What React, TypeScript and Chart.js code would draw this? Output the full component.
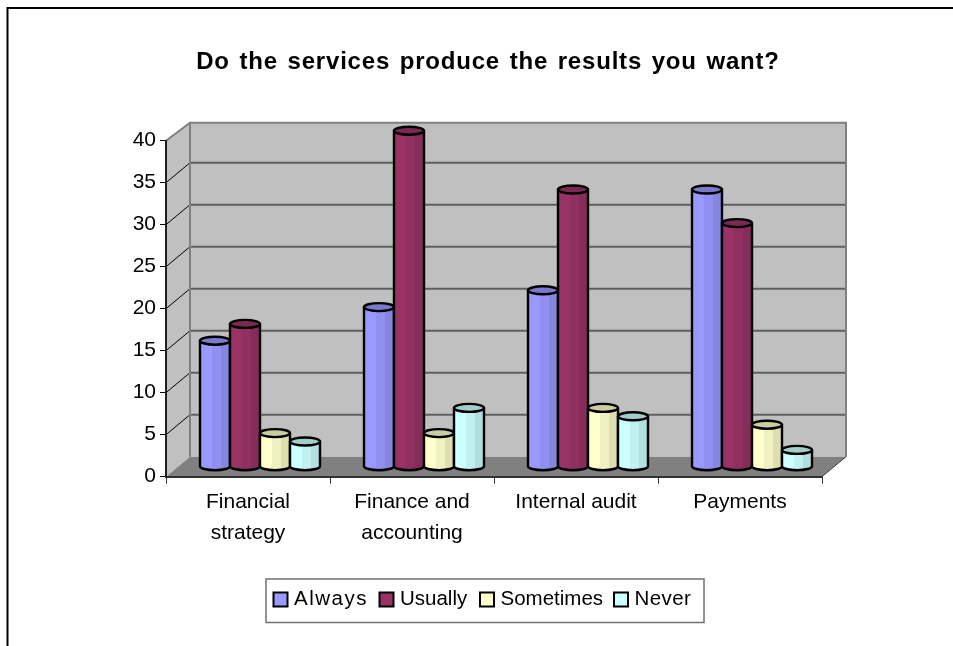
import React, { useEffect, useRef } from "react";
import { Chart, registerables, type Plugin } from "chart.js";

Chart.register(...registerables);

const categories = [["Financial", "strategy"], ["Finance and", "accounting"], "Internal audit", "Payments"];
const always = [15, 19, 21, 33];
const usually = [17, 40, 33, 29];
const sometimes = [4, 4, 7, 5];
const never = [3, 7, 6, 2];
const seriesNames = ["Always", "Usually", "Sometimes", "Never"];
const seriesColors = ["#9999FF", "#993366", "#FFFFCC", "#CCFFFF"];
const chartTitle = "Do the services produce the results you want?";

const FONT = '"Liberation Sans", Arial, sans-serif';
const TEXT_SIZE = 20.5;
const AXIS_TEXT_SIZE = 21;
const TITLE_LETTER_SPACING = "0.8px";
const TITLE_WORD_SPACING = "2.2px";
const TITLE_SHIFT_X = 77;

// Oblique projection of the plot box
const DEPTH_X = 24;
const DEPTH_Y = 20;
const TOP_EDGE_INSET = 2;

// Legend frame, where each entry begins and how loosely its text is set
const LEGEND_BOX = { left: 266, top: 579, right: 704, bottom: 622.5 };
const LEGEND_ENTRY_X = [273.5, 379.5, 480, 614];
const LEGEND_TRACKING = ["1.5px", "0px", "0px", "0.4px"];

function shade(hex: string, factor: number): string {
  const n = parseInt(hex.slice(1), 16);
  const ch = (v: number) => Math.round(v * factor);
  return `rgb(${ch((n >> 16) & 255)},${ch((n >> 8) & 255)},${ch(n & 255)})`;
}

// Frame, walls and floor go underneath the axes
const backdrop: Plugin<"bar"> = {
  id: "backdrop",
  beforeDraw(chart: any) {
    const { ctx, chartArea: a, scales } = chart;
    const y = scales.y;
    const y0 = y.getPixelForValue(0);
    const yMax = y.getPixelForValue(40);

    // The title block has no spacing or offset options of its own
    const block = chart.titleBlock;
    if (block && !block.spaced) {
      const drawTitle = block.draw;
      block.spaced = true;
      block.draw = function (...args: any[]) {
        ctx.save();
        ctx.letterSpacing = TITLE_LETTER_SPACING;
        ctx.wordSpacing = TITLE_WORD_SPACING;
        ctx.translate(TITLE_SHIFT_X, 0);
        drawTitle.apply(this, args);
        ctx.restore();
      };
    }

    ctx.save();

    ctx.fillStyle = "#fff";
    ctx.fillRect(0, 0, chart.width, chart.height);

    ctx.strokeStyle = "#000";
    ctx.lineWidth = 2;
    ctx.beginPath();
    ctx.moveTo(7.5, chart.height);
    ctx.lineTo(7.5, 8);
    ctx.lineTo(chart.width, 8);
    ctx.stroke();

    const backLeft = a.left + DEPTH_X;
    const backRight = a.right + DEPTH_X;
    const backBottom = y0 - DEPTH_Y;
    const backTop = yMax - DEPTH_Y + TOP_EDGE_INSET;

    ctx.fillStyle = "#C0C0C0";
    ctx.fillRect(backLeft, backTop, backRight - backLeft, backBottom - backTop);
    ctx.beginPath();
    ctx.moveTo(a.left, y0);
    ctx.lineTo(a.left, yMax);
    ctx.lineTo(backLeft, backTop);
    ctx.lineTo(backLeft, backBottom);
    ctx.closePath();
    ctx.fill();

    ctx.fillStyle = "#808080";
    ctx.beginPath();
    ctx.moveTo(a.left, y0);
    ctx.lineTo(backLeft, backBottom);
    ctx.lineTo(backRight, backBottom);
    ctx.lineTo(a.right, y0);
    ctx.closePath();
    ctx.fill();

    // Gridlines: across the back wall, then slanting down the side wall
    for (const tick of y.ticks) {
      if (tick.value === 0 || tick.value === 40) continue;
      const py = y.getPixelForValue(tick.value);
      ctx.strokeStyle = "#5F5F5F";
      ctx.lineWidth = 2;
      ctx.beginPath();
      ctx.moveTo(backLeft, py - DEPTH_Y);
      ctx.lineTo(backRight, py - DEPTH_Y);
      ctx.stroke();
      ctx.strokeStyle = "#000";
      ctx.lineWidth = 1;
      ctx.beginPath();
      ctx.moveTo(a.left, py);
      ctx.lineTo(backLeft, py - DEPTH_Y);
      ctx.stroke();
    }

    // Wall outline
    ctx.strokeStyle = "#808080";
    ctx.lineWidth = 2;
    ctx.beginPath();
    ctx.moveTo(a.left, yMax);
    ctx.lineTo(backLeft, backTop);
    ctx.lineTo(backRight, backTop);
    ctx.lineTo(backRight, backBottom);
    ctx.moveTo(backLeft, backTop);
    ctx.lineTo(backLeft, backBottom);
    ctx.stroke();

    ctx.strokeStyle = "#404040";
    ctx.lineWidth = 1;
    ctx.beginPath();
    ctx.moveTo(a.right, y0);
    ctx.lineTo(backRight, backBottom);
    ctx.stroke();
    ctx.restore();
  },
};

// Each bar element becomes a banded cylinder standing mid-way along the depth
const cylinders: Plugin<"bar"> = {
  id: "cylinders",
  beforeDatasetsDraw(chart) {
    const { ctx } = chart;
    chart.data.datasets.forEach((dataset, i) => {
      const color = dataset.backgroundColor as string;
      for (const bar of chart.getDatasetMeta(i).data as any[]) {
        const rx = bar.width / 2;
        const ry = 4;
        const cx = bar.x + DEPTH_X / 2;
        const top = bar.y - DEPTH_Y / 2;
        const bottom = bar.base - DEPTH_Y / 2;
        const left = cx - rx;
        const right = cx + rx;

        const bands = ctx.createLinearGradient(left, 0, right, 0);
        bands.addColorStop(0, color);
        bands.addColorStop(0.4, color);
        bands.addColorStop(0.4, shade(color, 0.94));
        bands.addColorStop(0.7, shade(color, 0.94));
        bands.addColorStop(0.7, shade(color, 0.87));
        bands.addColorStop(1, shade(color, 0.87));

        ctx.save();
        ctx.lineWidth = 2.4;
        ctx.strokeStyle = "#000";
        ctx.lineJoin = "round";

        ctx.beginPath();
        ctx.moveTo(left, top);
        ctx.lineTo(left, bottom);
        ctx.ellipse(cx, bottom, rx, ry, 0, Math.PI, 0, true);
        ctx.lineTo(right, top);
        ctx.closePath();
        ctx.fillStyle = bands;
        ctx.fill();
        ctx.stroke();

        ctx.beginPath();
        ctx.ellipse(cx, top, rx, ry, 0, 0, Math.PI * 2);
        ctx.fillStyle = shade(color, 0.8);
        ctx.fill();
        ctx.stroke();
        ctx.restore();
      }
    });
    return false;
  },
};

// Boxed legend along the bottom of the chart
const boxedLegend: Plugin<"bar"> = {
  id: "boxedLegend",
  afterDraw(chart) {
    const { ctx } = chart;
    ctx.save();
    ctx.strokeStyle = "#707070";
    ctx.lineWidth = 1.5;
    ctx.strokeRect(
      LEGEND_BOX.left,
      LEGEND_BOX.top,
      LEGEND_BOX.right - LEGEND_BOX.left,
      LEGEND_BOX.bottom - LEGEND_BOX.top
    );
    ctx.font = `${TEXT_SIZE}px ${FONT}`;
    ctx.textBaseline = "alphabetic";
    chart.data.datasets.forEach((dataset, i) => {
      const x = LEGEND_ENTRY_X[i];
      ctx.fillStyle = dataset.backgroundColor as string;
      ctx.fillRect(x, 592.5, 14, 14);
      ctx.strokeStyle = "#000";
      ctx.lineWidth = 2;
      ctx.strokeRect(x, 592.5, 14, 14);
      ctx.fillStyle = "#000";
      (ctx as any).letterSpacing = LEGEND_TRACKING[i];
      ctx.fillText(dataset.label as string, x + 20.5, 605);
    });
    ctx.restore();
  },
};

export default function App() {
  const ref = useRef<HTMLCanvasElement>(null);

  useEffect(() => {
    const source = [always, usually, sometimes, never];
    const chart = new Chart(ref.current!, {
      type: "bar",
      data: {
        labels: categories as any,
        datasets: source.map((data, i) => ({
          label: seriesNames[i],
          data,
          backgroundColor: seriesColors[i],
          categoryPercentage: 120 / 164,
          barPercentage: 1,
        })),
      },
      options: {
        responsive: false,
        animation: false,
        layout: { padding: { left: 0, top: 0, right: 131, bottom: 0 } },
        plugins: {
          legend: { display: false },
          tooltip: { enabled: false },
          title: {
            display: true,
            text: chartTitle,
            color: "#000",
            font: { family: FONT, size: 24, weight: "bold", lineHeight: 1.2 },
            align: "center",
            padding: { top: 47.6, bottom: 64.3 },
          },
        },
        scales: {
          x: {
            grid: { display: true, drawOnChartArea: false, drawTicks: true, tickLength: 7, color: "#303030", offset: true },
            border: { display: true, color: "#303030", width: 2 },
            ticks: {
              color: "#000",
              maxRotation: 0,
              autoSkip: false,
              padding: 3,
              font: { family: FONT, size: AXIS_TEXT_SIZE, lineHeight: 1.48 },
            },
            afterFit(scale: any) {
              scale.height = 169.3;
            },
          },
          y: {
            min: 0,
            max: 40,
            grid: { display: true, drawOnChartArea: false, drawTicks: true, tickLength: 6, color: "#000" },
            border: { display: true, color: "#202020", width: 2 },
            ticks: {
              stepSize: 5,
              color: "#000",
              padding: 4,
              font: { family: FONT, size: AXIS_TEXT_SIZE },
            },
            afterFit(scale: any) {
              scale.width = 166;
            },
          },
        },
      },
      plugins: [backdrop, cylinders, boxedLegend],
    });
    return () => chart.destroy();
  }, []);

  return (
    <canvas
      ref={ref}
      width={953}
      height={646}
      style={{ position: "fixed", left: 0, top: 0, width: 953, height: 646, display: "block" }}
    />
  );
}
